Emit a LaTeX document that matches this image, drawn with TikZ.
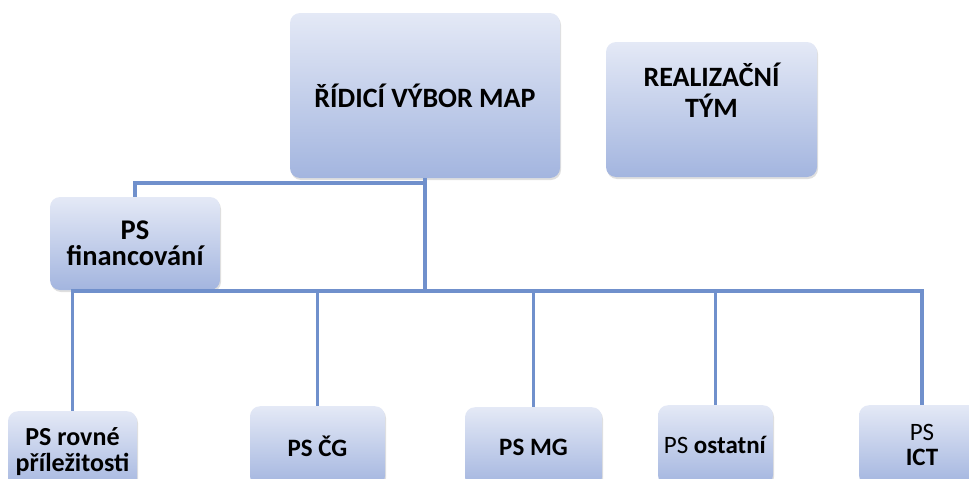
\documentclass[tikz,border=0pt]{standalone}
\usepackage{fontspec}
\setmainfont{Carlito}
\usetikzlibrary{shadows}
\definecolor{xline}{RGB}{112,144,204}
\definecolor{xtop}{RGB}{228,233,246}
\definecolor{xbot}{RGB}{163,181,223}
\begin{document}
\begin{tikzpicture}[x=1pt,y=-1pt]
\tikzset{box/.style={rounded corners=10pt,top color=xtop,bottom color=xbot,draw=none,
  align=center,drop shadow={opacity=0.25,shadow xshift=1pt,shadow yshift=-2pt}}}
\tikzset{big/.style={box,font=\bfseries\fontsize{28}{29}\selectfont}}
\tikzset{small/.style={box,anchor=north,minimum height=80pt,font=\fontsize{25}{25}\selectfont}}
\tikzset{conn/.style={draw=xline,line width=3.8pt}}
\clip (0,0) rectangle (969,479);
\node[big,minimum width=270pt,minimum height=165pt] at (425,95.5) (ridici) {ŘÍDICÍ VÝBOR MAP};
\node[big,minimum width=211pt,minimum height=135pt] at (711.5,109.5) (realiz)
  {\raisebox{15pt}[\height][\depth]{\begin{tabular}{@{}c@{}}REALIZAČNÍ\\[-2pt]TÝM\end{tabular}}};
\node[box,minimum width=170pt,minimum height=93pt,font=\bfseries\fontsize{28.5}{26}\selectfont]
  at (135,243.5) (fin) {PS\\financování};
% pracovni skupiny
\node[small,minimum width=129pt,font=\bfseries\fontsize{26}{26}\selectfont] at (72.5,411) (rovne) {PS rovné\\příležitosti};
\node[small,minimum width=135pt,font=\bfseries\fontsize{25}{25}\selectfont] at (317.5,406) (cg) {PS ČG};
\node[small,minimum width=137pt,font=\bfseries\fontsize{25}{25}\selectfont] at (533.5,407) (mg) {PS MG};
\node[small,minimum width=115pt] at (715.5,405) (ostatni) {PS \textbf{ostatní}};
\node[small,minimum width=126pt] at (922,405) (ict) {PS\\\textbf{ICT}};
\coordinate (bus) at (425,291);
\draw[conn] (ridici.south) -- (bus);
\draw[conn] (ridici.south) -- ++(0,5) -| (fin.north);
\foreach \n in {rovne,cg,mg,ostatni,ict}
  \draw[conn] (bus) -| (\n.north);
\end{tikzpicture}
\end{document}
